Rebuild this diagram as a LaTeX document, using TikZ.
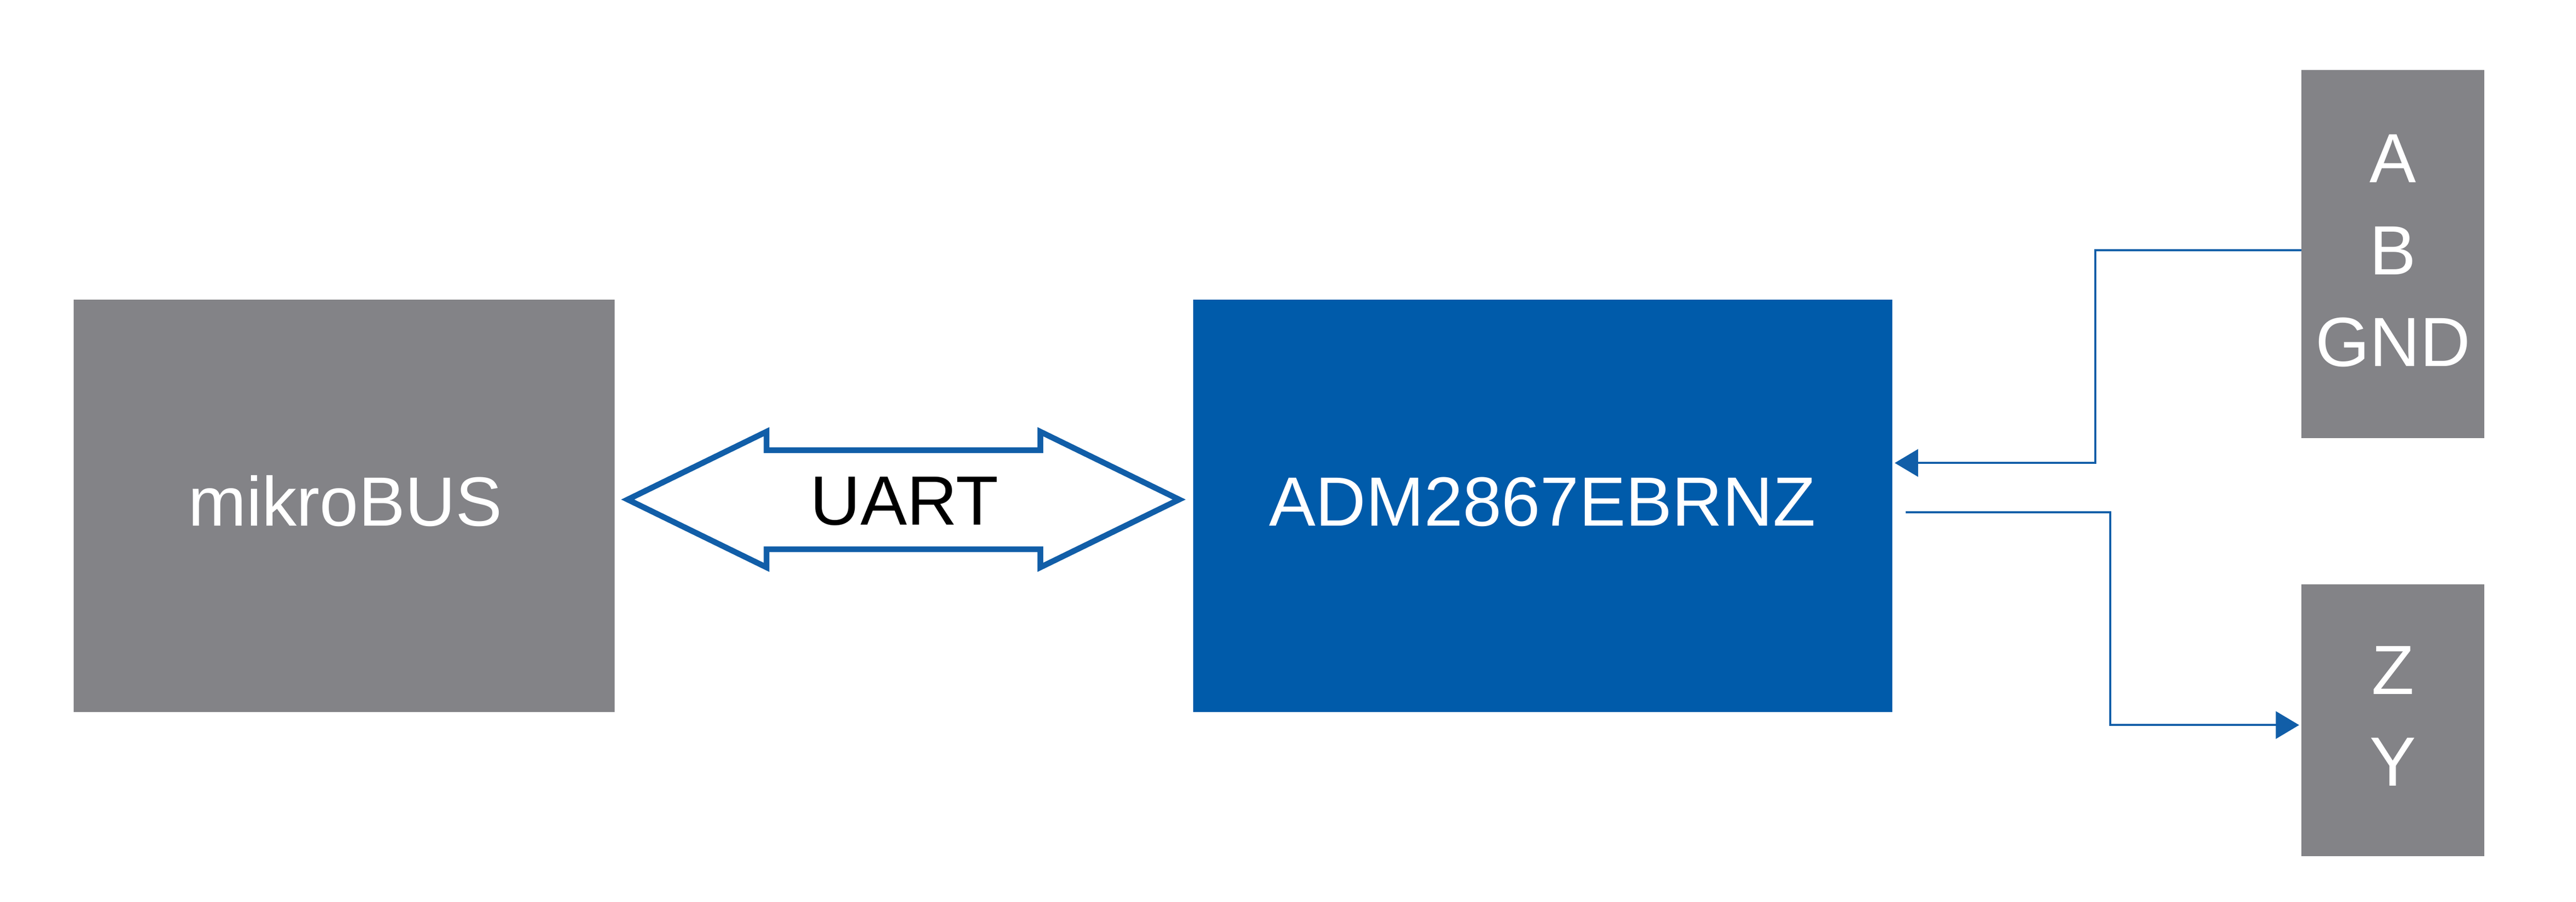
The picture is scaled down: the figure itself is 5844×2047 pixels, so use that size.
\documentclass[tikz,border=0pt]{standalone}
\usepackage{fontspec}
\setmainfont{Liberation Sans}
\usetikzlibrary{arrows.meta}
\definecolor{boxgray}{RGB}{131,131,135}
\definecolor{boxblue}{RGB}{0,91,170}
\definecolor{lineblue}{RGB}{17,94,168}
\begin{document}
\begin{tikzpicture}[x=0.01cm,y=-0.01cm,
  graybox/.style={fill=boxgray,draw=none,inner sep=0pt,outer sep=0pt},
  bluebox/.style={fill=boxblue,draw=none,inner sep=0pt,outer sep=0pt},
  lbl/.style={text=white,font=\fontsize{45pt}{54pt}\selectfont,inner sep=0pt,anchor=base},
  conn/.style={draw=lineblue,line width=0.047cm,-{Triangle[length=0.53cm,width=0.62cm]}},
  busarrow/.style={draw=lineblue,line width=0.13cm,line join=miter}]
\useasboundingbox (0,0) rectangle (5844,2047);
% boxes
\node[graybox,minimum width=12.26cm,minimum height=9.35cm] (mb) at (781,1148.5) {};
\node[bluebox,minimum width=15.85cm,minimum height=9.35cm] (adm) at (3499.5,1148.5) {};
\node[graybox,minimum width=4.15cm,minimum height=8.35cm] (gA) at (5428.5,576.5) {};
\node[graybox,minimum width=4.15cm,minimum height=6.17cm] (gZ) at (5428.5,1635.5) {};
% labels
\node[lbl] (tmb) at (783,1194) {mikroBUS};
\node[lbl] (tadm) at (3499,1194) {ADM2867EBRNZ};
\node[lbl] (tA) at (5428.5,414) {A};
\node[lbl] (tB) at (5428.5,623) {B};
\node[lbl] (tGND) at (5428.5,831) {GND};
\node[lbl] (tZ) at (5428.5,1576) {Z};
\node[lbl] (tY) at (5428.5,1784) {Y};
% UART double arrow
\draw[busarrow] (1424,1134) -- (1739,980) -- (1739,1022) -- (2360,1022) -- (2360,980)
  -- (2675,1134) -- (2360,1288) -- (2360,1247) -- (1739,1247) -- (1739,1288) -- cycle;
\node[lbl,text=black] (tuart) at (2052,1192) {UART};
% connectors
\coordinate (yB) at (0,568);
\coordinate (yIn) at (0,1051);
\coordinate (yOut) at (0,1646);
\coordinate (zs) at (4323,1163);
\draw[conn,shorten >=0.06cm] (gA.west |- yB) -| (4753,1051) -- (adm.east |- yIn);
\draw[conn,shorten >=0.05cm] (zs) -| (4787,1646) -- (gZ.west |- yOut);
\end{tikzpicture}
\end{document}
